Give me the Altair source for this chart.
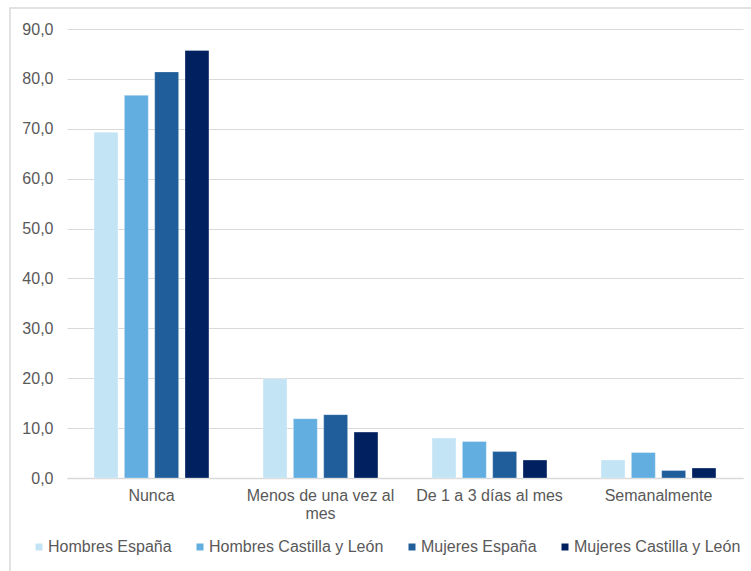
import altair as alt
import pandas as pd

# Frecuencia de consumo (%) por sexo y ámbito
categorias = ["Nunca", "Menos de una vez al mes", "De 1 a 3 días al mes", "Semanalmente"]
series = ["Hombres España", "Hombres Castilla y León", "Mujeres España", "Mujeres Castilla y León"]
colores = ["#c2e4f5", "#62aee0", "#1f5e9b", "#002060"]

hombres_espana = [69.3, 19.9, 8.0, 3.6]
hombres_cyl = [76.7, 11.9, 7.3, 5.1]
mujeres_espana = [81.4, 12.7, 5.3, 1.5]
mujeres_cyl = [85.7, 9.2, 3.6, 2.0]

valores = [hombres_espana, hombres_cyl, mujeres_espana, mujeres_cyl]
rows = []
for serie, vals in zip(series, valores):
    for cat, v in zip(categorias, vals):
        rows.append({"categoria": cat, "serie": serie, "valor": v})
df = pd.DataFrame(rows)

FONT = "Liberation Sans"
GREY = "#595959"

bars = alt.Chart(df).mark_bar(stroke="white", strokeWidth=0.6, strokeOpacity=0.5).encode(
    x=alt.X(
        "categoria:N",
        sort=categorias,
        title=None,
        scale=alt.Scale(paddingInner=0.32, paddingOuter=0.16),
        axis=alt.Axis(
            labelAngle=0,
            labelFont=FONT,
            labelFontSize=16,
            labelColor=GREY,
            labelPadding=9,
            labelLineHeight=18,
            labelLimit=300,
            ticks=False,
            grid=False,
            domainColor="#d9d9d9",
            domainWidth=1.5,
            labelExpr="datum.value == 'Menos de una vez al mes' ? ['Menos de una vez al', 'mes'] : datum.value",
        ),
    ),
    xOffset=alt.XOffset(
        "serie:N",
        sort=series,
        scale=alt.Scale(paddingInner=0.21, paddingOuter=0),
    ),
    y=alt.Y(
        "valor:Q",
        title=None,
        scale=alt.Scale(domain=[0, 90], nice=False),
        axis=alt.Axis(
            values=list(range(0, 91, 10)),
            labelExpr="replace(format(datum.value, '.1f'), '.', ',')",
            labelFont=FONT,
            labelFontSize=16,
            labelColor=GREY,
            labelPadding=14,
            ticks=False,
            domain=False,
            grid=True,
            gridColor="#d9d9d9",
            gridWidth=1.2,
        ),
    ),
    color=alt.Color(
        "serie:N",
        sort=series,
        scale=alt.Scale(domain=series, range=colores),
        legend=alt.Legend(
            title=None,
            orient="none",
            direction="horizontal",
            columns=4,
            legendX=-36,
            legendY=510,
            symbolType="square",
            symbolSize=49,
            symbolStrokeWidth=0,
            labelFont=FONT,
            labelFontSize=16,
            labelColor=GREY,
            labelOffset=1,
            labelLimit=400,
            columnPadding=20,
            padding=0,
        ),
    ),
)

# Marco exterior del área del gráfico
marco = alt.Chart(alt.Data(values=[{}])).mark_rect(
    fill=None, stroke="#d9d9d9", strokeWidth=1.5
).encode(
    x=alt.value(-57), x2=alt.value(690), y=alt.value(-21), y2=alt.value(548)
)

chart = (
    alt.layer(marco, bars)
    .properties(
        width=676,
        height=449,
        background="white",
        autosize=alt.AutoSizeParams(type="none"),
        padding={"left": 67, "top": 29, "right": 8, "bottom": 93},
    )
    .configure_view(stroke=None, strokeWidth=0)
)

chart.save("out.html", embed_options={"renderer": "svg", "actions": False})
